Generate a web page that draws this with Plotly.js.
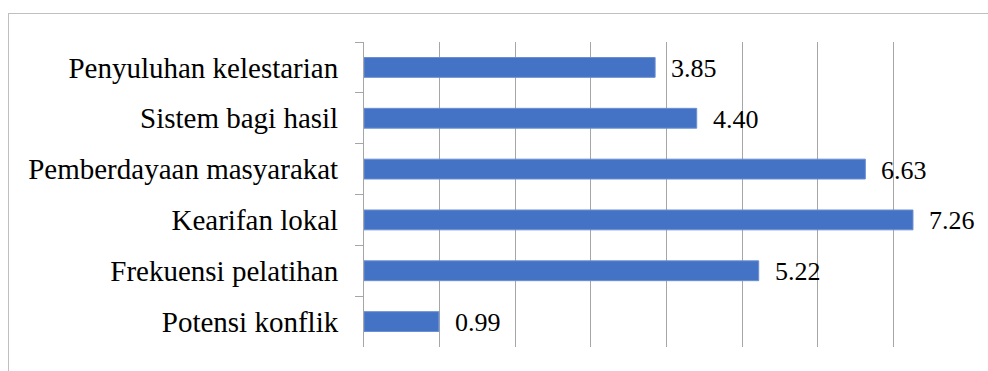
<!DOCTYPE html>
<html>
<head>
<meta charset="utf-8">
<script src="https://cdn.plot.ly/plotly-3.0.1.min.js"></script>
<style>
  html, body { margin: 0; padding: 0; background: #ffffff; }
  #chart { width: 988px; height: 371px; }
  #chart text { font-family: 'Liberation Serif', 'Times New Roman', serif !important; }
</style>
</head>
<body>
<div id="chart"></div>
<script>
// Data (top to bottom as shown)
const categories = [
  "Penyuluhan kelestarian",
  "Sistem bagi hasil",
  "Pemberdayaan masyarakat",
  "Kearifan lokal",
  "Frekuensi pelatihan",
  "Potensi konflik"
];
const values = [3.85, 4.40, 6.63, 7.26, 5.22, 0.99];
const valueLabels = values.map(v => v.toFixed(2));

const FONT = "Liberation Serif";
const W = 988, H = 371;
const margin = { l: 364, r: 19, t: 42, b: 24 };
const pw = W - margin.l - margin.r;
const ph = H - margin.t - margin.b;
const px2x = px => (px - margin.l) / pw;
const py2y = py => 1 - (py - margin.t) / ph;

const trace = {
  type: "bar",
  orientation: "h",
  y: categories,
  x: values,
  width: 0.39,
  marker: { color: "#4472C4", line: { color: "#6a8fd2", width: 1 } },
  hoverinfo: "none"
};

const annotations = categories.map((c, i) => ({
  x: values[i],
  y: c,
  xref: "x",
  yref: "y",
  text: valueLabels[i],
  showarrow: false,
  xanchor: "left",
  yanchor: "middle",
  xshift: 14,
  yshift: -1,
  font: { family: FONT, size: 26, color: "#000000" }
}));

const layout = {
  width: W,
  height: H,
  margin: margin,
  paper_bgcolor: "#ffffff",
  plot_bgcolor: "#ffffff",
  showlegend: false,
  font: { family: FONT, color: "#000000" },
  xaxis: {
    range: [0, 8.001],
    dtick: 1,
    tick0: 0,
    showgrid: true,
    gridcolor: "#a6a6a6",
    gridwidth: 1,
    zeroline: false,
    showline: false,
    showticklabels: false,
    ticks: ""
  },
  yaxis: {
    type: "category",
    categoryorder: "array",
    categoryarray: categories,
    autorange: "reversed",
    showline: true,
    linecolor: "#a6a6a6",
    linewidth: 1,
    showgrid: false,
    zeroline: false,
    ticks: "outside",
    tickson: "boundaries",
    ticklen: 8,
    tickcolor: "#a6a6a6",
    tickwidth: 1,
    ticklabelstandoff: 19,
    tickfont: { family: FONT, size: 29, color: "#000000" }
  },
  annotations: annotations,
  shapes: [
    { type: "line", xref: "paper", yref: "paper",
      x0: px2x(8), x1: px2x(1000), y0: py2y(13.5), y1: py2y(13.5),
      line: { color: "#bfbfbf", width: 1 } },
    { type: "line", xref: "paper", yref: "paper",
      x0: px2x(8.5), x1: px2x(8.5), y0: py2y(13), y1: py2y(380),
      line: { color: "#bfbfbf", width: 1 } }
  ]
};

Plotly.newPlot("chart", [trace], layout, { displayModeBar: false, staticPlot: true });
</script>
</body>
</html>
